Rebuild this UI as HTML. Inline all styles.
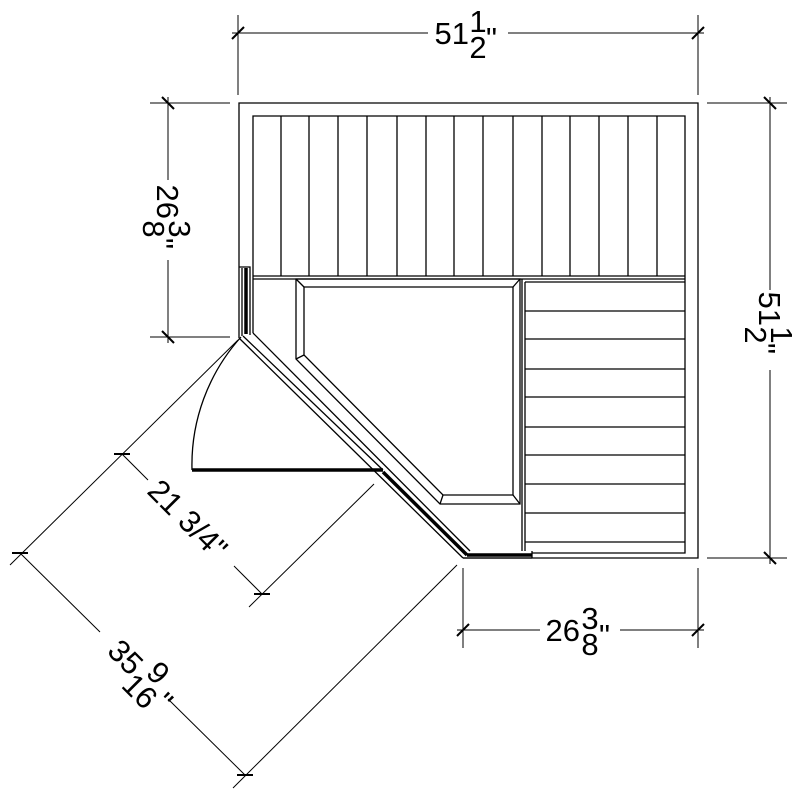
<!DOCTYPE html>
<html><head><meta charset="utf-8"><style>
html,body{margin:0;padding:0;background:#fff;}
svg{display:block;}
text{font-family:"Liberation Sans",sans-serif;fill:#000;}
</style></head><body>
<svg width="800" height="800" viewBox="0 0 800 800" xmlns="http://www.w3.org/2000/svg">
<g fill="none" stroke="#000" stroke-width="1.3">
<path d="M463,558 L698,558 L698,103 L239,103 L239,338"/>
<path d="M253,333 L253,116 L685,116 L685,553 L532,553"/>
<line x1="253" y1="276" x2="685" y2="276"/>
<line x1="253" y1="279" x2="685" y2="279"/>
<g>
<line x1="281" y1="116" x2="281" y2="276"/><line x1="309" y1="116" x2="309" y2="276"/>
<line x1="338" y1="116" x2="338" y2="276"/><line x1="367" y1="116" x2="367" y2="276"/>
<line x1="397" y1="116" x2="397" y2="276"/><line x1="426" y1="116" x2="426" y2="276"/>
<line x1="454" y1="116" x2="454" y2="276"/><line x1="483" y1="116" x2="483" y2="276"/>
<line x1="513" y1="116" x2="513" y2="276"/><line x1="542" y1="116" x2="542" y2="276"/>
<line x1="570" y1="116" x2="570" y2="276"/><line x1="599" y1="116" x2="599" y2="276"/>
<line x1="628" y1="116" x2="628" y2="276"/><line x1="657" y1="116" x2="657" y2="276"/>
</g>
<line x1="522" y1="279" x2="522" y2="551"/>
<line x1="525" y1="282" x2="525" y2="551"/>
<line x1="525" y1="282" x2="685" y2="282"/>
<line x1="525" y1="311" x2="685" y2="311"/><line x1="525" y1="339" x2="685" y2="339"/>
<line x1="525" y1="369" x2="685" y2="369"/><line x1="525" y1="397" x2="685" y2="397"/>
<line x1="525" y1="427" x2="685" y2="427"/><line x1="525" y1="455" x2="685" y2="455"/>
<line x1="525" y1="484" x2="685" y2="484"/><line x1="525" y1="513" x2="685" y2="513"/>
<line x1="525" y1="542" x2="685" y2="542"/>
<path d="M296,279 L520,279 L520,504 L440,504 L296,359 Z"/>
<path d="M304,287 L513,287 L513,495 L443,495 L304,355 Z"/>
<line x1="296" y1="279" x2="304" y2="287"/><line x1="520" y1="279" x2="513" y2="287"/>
<line x1="520" y1="504" x2="513" y2="495"/><line x1="440" y1="504" x2="443" y2="495"/>
<line x1="296" y1="359" x2="304" y2="355"/>
<path d="M239,267 L250,267 L250,335"/>
<line x1="242" y1="268" x2="242" y2="336"/>
<line x1="239" y1="338" x2="463" y2="558"/>
<line x1="253" y1="333" x2="470" y2="551"/>
<line x1="243" y1="336" x2="383" y2="470"/>
<line x1="463" y1="558" x2="532" y2="558"/>
<line x1="532" y1="551" x2="532" y2="558"/>
<path d="M241,337 A191,191 0 0 0 192,470"/>
<g stroke-width="1">
<line x1="238" y1="15" x2="238" y2="95"/><line x1="698" y1="15" x2="698" y2="95"/>
<line x1="232" y1="33" x2="428" y2="33"/><line x1="508" y1="33" x2="704" y2="33"/>
<line x1="150" y1="103" x2="230" y2="103"/><line x1="150" y1="337" x2="230" y2="337"/>
<line x1="168" y1="97" x2="168" y2="180"/><line x1="168" y1="260" x2="168" y2="343"/>
<line x1="707" y1="103" x2="787" y2="103"/><line x1="707" y1="558" x2="787" y2="558"/>
<line x1="770" y1="97" x2="770" y2="290"/><line x1="770" y1="370" x2="770" y2="564"/>
<line x1="463" y1="568" x2="463" y2="648"/><line x1="698" y1="568" x2="698" y2="648"/>
<line x1="457" y1="630" x2="540" y2="630"/><line x1="620" y1="630" x2="704" y2="630"/>
<line x1="10" y1="565" x2="238" y2="340"/>
<line x1="233" y1="788" x2="457" y2="565"/>
<line x1="20" y1="553" x2="100" y2="632"/><line x1="168" y1="699" x2="245" y2="775"/>
<line x1="122" y1="454" x2="148" y2="480"/><line x1="234" y1="566" x2="262" y2="594"/>
<line x1="249" y1="607" x2="374" y2="484"/>
</g>
<g stroke-width="2">
<line x1="232" y1="39" x2="244" y2="27"/><line x1="692" y1="39" x2="704" y2="27"/>
<line x1="162" y1="97" x2="174" y2="109"/><line x1="162" y1="331" x2="174" y2="343"/>
<line x1="764" y1="97" x2="776" y2="109"/><line x1="764" y1="552" x2="776" y2="564"/>
<line x1="457" y1="636" x2="469" y2="624"/><line x1="692" y1="636" x2="704" y2="624"/>
<line x1="12" y1="553" x2="28" y2="553"/><line x1="114" y1="454" x2="130" y2="454"/>
<line x1="237" y1="775" x2="253" y2="775"/><line x1="254" y1="594" x2="270" y2="594"/>
</g>
</g>
<g stroke="#000" fill="none" stroke-width="3.5">
<line x1="246" y1="268" x2="246" y2="334"/>
<line x1="383" y1="472" x2="467" y2="555"/>
<line x1="467" y1="555" x2="532" y2="555"/>
<line x1="192" y1="470" x2="383" y2="470"/>
</g>
<g font-size="31">
<g transform="translate(469,33)">
<text x="0" y="11" text-anchor="end">51</text>
<text x="9" y="-1" text-anchor="middle">1</text>
<text x="9" y="25" text-anchor="middle">2</text>
<text x="17" y="16">"</text>
</g>
<g transform="translate(580,630)">
<text x="0" y="11" text-anchor="end">26</text>
<text x="10" y="-1" text-anchor="middle">3</text>
<text x="10" y="25" text-anchor="middle">8</text>
<text x="19" y="16">"</text>
</g>
<g transform="translate(168,219) rotate(90)">
<text x="0" y="11" text-anchor="end">26</text>
<text x="10" y="-1" text-anchor="middle">3</text>
<text x="10" y="25" text-anchor="middle">8</text>
<text x="19" y="16">"</text>
</g>
<g transform="translate(770,326) rotate(90)">
<text x="0" y="11" text-anchor="end">51</text>
<text x="9" y="-1" text-anchor="middle">1</text>
<text x="9" y="25" text-anchor="middle">2</text>
<text x="17" y="16">"</text>
</g>
<g transform="translate(188,519) rotate(45)">
<text x="0" y="11" text-anchor="middle">21 3/4"</text>
</g>
<g transform="translate(138,669) rotate(45)">
<text x="0" y="11" text-anchor="end">35</text>
<text x="17" y="-1" text-anchor="middle">9</text>
<text x="17" y="25" text-anchor="middle">16</text>
<text x="36" y="16">"</text>
</g>
</g>
</svg>
</body></html>
